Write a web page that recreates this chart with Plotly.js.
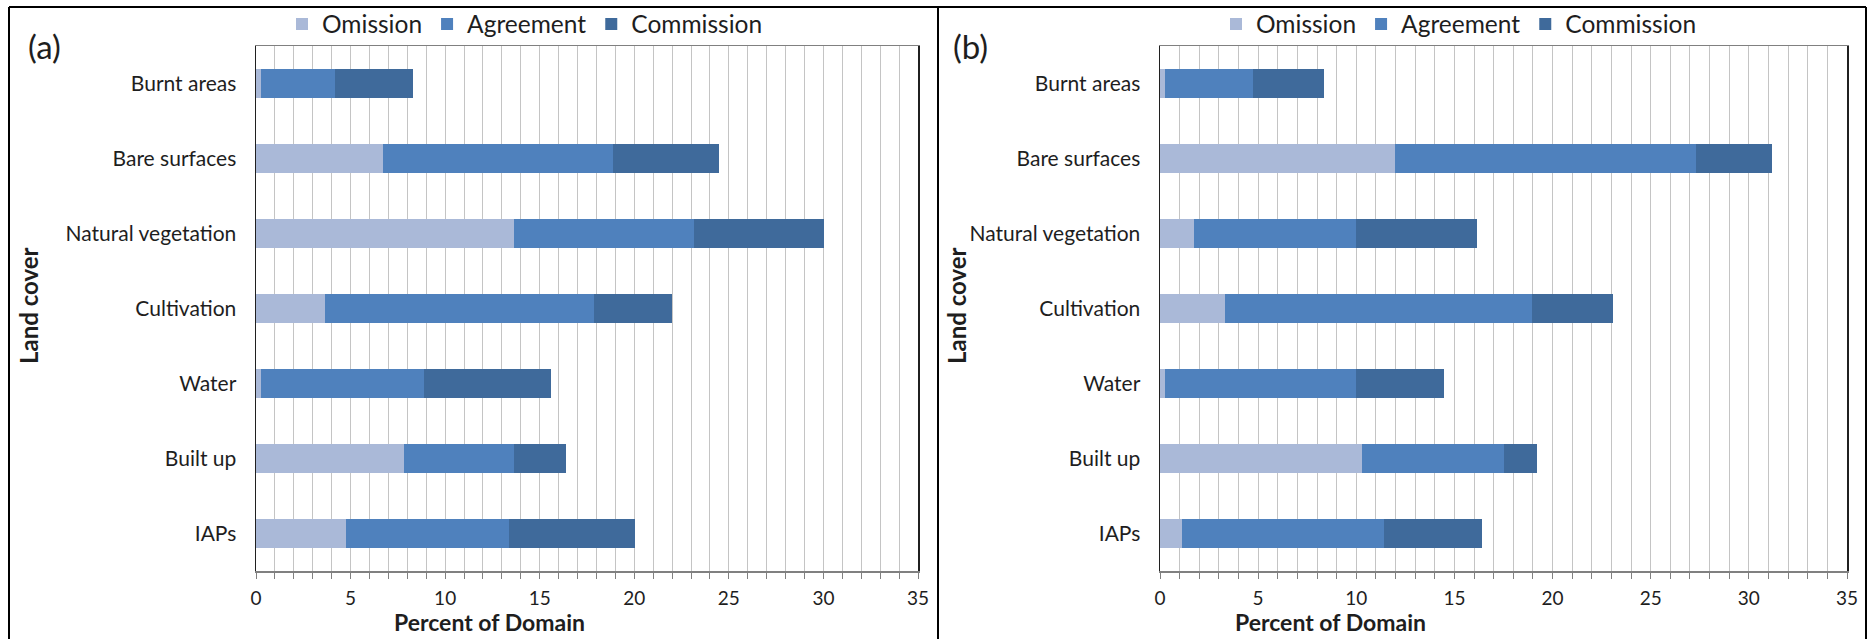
<!DOCTYPE html>
<html><head><meta charset="utf-8">
<script src="https://cdn.plot.ly/plotly-3.0.1.min.js"></script>
<style>html,body{margin:0;padding:0;background:#fff}#chart{width:1868px;height:639px}</style>
</head><body><div id="chart"></div>
<script>
// ---- data ----
const categories = ['Burnt areas','Bare surfaces','Natural vegetation','Cultivation','Water','Built up','IAPs'];
const seriesNames = ['Omission','Agreement','Commission'];
const omissionA   = [0.26, 6.7, 13.65, 3.65, 0.26, 7.8, 4.75];
const agreementA  = [3.94, 12.2, 9.5, 14.2, 8.64, 5.85, 8.6];
const commissionA = [4.1, 5.6, 6.9, 4.15, 6.7, 2.75, 6.7];
const omissionB   = [0.27, 11.96, 1.71, 3.33, 0.27, 10.3, 1.12];
const agreementB  = [4.48, 15.34, 8.29, 15.62, 9.73, 7.2, 10.31];
const commissionB = [3.6, 3.9, 6.14, 4.13, 4.45, 1.7, 4.97];
const panelLabels = ['(a)','(b)'];
const xTitle = 'Percent of Domain';
const yTitle = 'Land cover';

// ---- style ----
const W = 1868, H = 639;
const px = x => x / W;
const py = y => 1 - y / H;
const FONT = 'Lato, Carlito, Calibri, sans-serif';
const TXT = '#1e1e1e';
const colors = ['#aab9d8', '#4f81bd', '#3f6a9b'];
const GRID = '#c4c4c4';

const seriesA = [omissionA, agreementA, commissionA];
const seriesB = [omissionB, agreementB, commissionB];

const traces = [];
seriesA.forEach((vals, i) => traces.push({
  type: 'bar', orientation: 'h', name: seriesNames[i], x: vals, y: categories,
  xaxis: 'x', yaxis: 'y', legend: 'legend', marker: {color: colors[i], line: {width: 0}},
  hoverinfo: 'x+y+name'
}));
seriesB.forEach((vals, i) => traces.push({
  type: 'bar', orientation: 'h', name: seriesNames[i], x: vals, y: categories,
  xaxis: 'x2', yaxis: 'y2', legend: 'legend2', marker: {color: colors[i], line: {width: 0}},
  hoverinfo: 'x+y+name'
}));

function xAxis(d0, d1, anchor) {
  return {
    domain: [px(d0), px(d1)], anchor: anchor, range: [0, 35], tick0: 0, dtick: 5,
    ticks: 'outside', ticklen: 6, tickcolor: '#808080', tickwidth: 1,
    showgrid: true, gridcolor: GRID, gridwidth: 1, zeroline: false,
    minor: {dtick: 1, tick0: 0, showgrid: true, gridcolor: GRID, gridwidth: 1, ticks: 'outside', ticklen: 6, tickcolor: '#808080'},
    showline: true, linecolor: '#808080', linewidth: 1.5, mirror: true,
    tickfont: {family: FONT, size: 19, color: TXT}, ticklabelstandoff: 4
  };
}
function yAxis(anchor) {
  return {
    domain: [py(571), py(46)], anchor: anchor, type: 'category', autorange: 'reversed',
    ticks: '', showgrid: false, zeroline: false,
    showline: true, linecolor: '#202020', linewidth: 1.5, mirror: true,
    tickfont: {family: FONT, size: 21, color: TXT}, ticklabelstandoff: 14
  };
}

function legendAt(xpx) {
  return {
    orientation: 'h', x: px(xpx), xanchor: 'left', y: py(24), yanchor: 'middle',
    font: {family: FONT, size: 24.5, color: TXT}, bgcolor: 'rgba(0,0,0,0)',
    borderwidth: 0, traceorder: 'normal', itemclick: false, itemdoubleclick: false
  };
}

function note(text, xpx, ypx, size, angle) {
  return {text: text, x: px(xpx), y: py(ypx), xref: 'paper', yref: 'paper', showarrow: false,
    xanchor: 'center', yanchor: 'middle', textangle: angle || 0,
    font: {family: FONT, size: size, color: TXT}};
}

const annotations = [
  note(panelLabels[0], 44, 46, 33),
  note(panelLabels[1], 970, 46, 33),
  note('<b>' + xTitle + '</b>', 490, 622, 23),
  note('<b>' + xTitle + '</b>', 1330, 622, 23),
  note('<b>' + yTitle + '</b>', 28, 306, 24, -90),
  note('<b>' + yTitle + '</b>', 956, 306, 24, -90)
];

const frame = {type: 'line', xref: 'paper', yref: 'paper', line: {color: '#000', width: 2}};
const shapes = [
  Object.assign({}, frame, {x0: px(9), x1: px(1866), y0: py(7), y1: py(7)}),
  Object.assign({}, frame, {x0: px(9), x1: px(9), y0: py(7), y1: 0}),
  Object.assign({}, frame, {x0: px(938), x1: px(938), y0: py(7), y1: 0}),
  Object.assign({}, frame, {x0: px(1866), x1: px(1866), y0: py(7), y1: 0})
];

const layout = {
  width: W, height: H, margin: {l: 0, r: 0, t: 0, b: 0},
  paper_bgcolor: '#fff', plot_bgcolor: '#fff',
  barmode: 'stack', bargap: 0.617,
  font: {family: FONT, color: TXT},
  xaxis: xAxis(256, 918, 'y'),
  yaxis: yAxis('x'),
  xaxis2: xAxis(1160, 1847, 'y2'),
  yaxis2: yAxis('x2'),
  legend: legendAt(282),
  legend2: legendAt(1216),
  annotations: annotations,
  shapes: shapes,
  showlegend: true
};

Plotly.newPlot('chart', traces, layout, {displayModeBar: false, staticPlot: true});
</script></body></html>
